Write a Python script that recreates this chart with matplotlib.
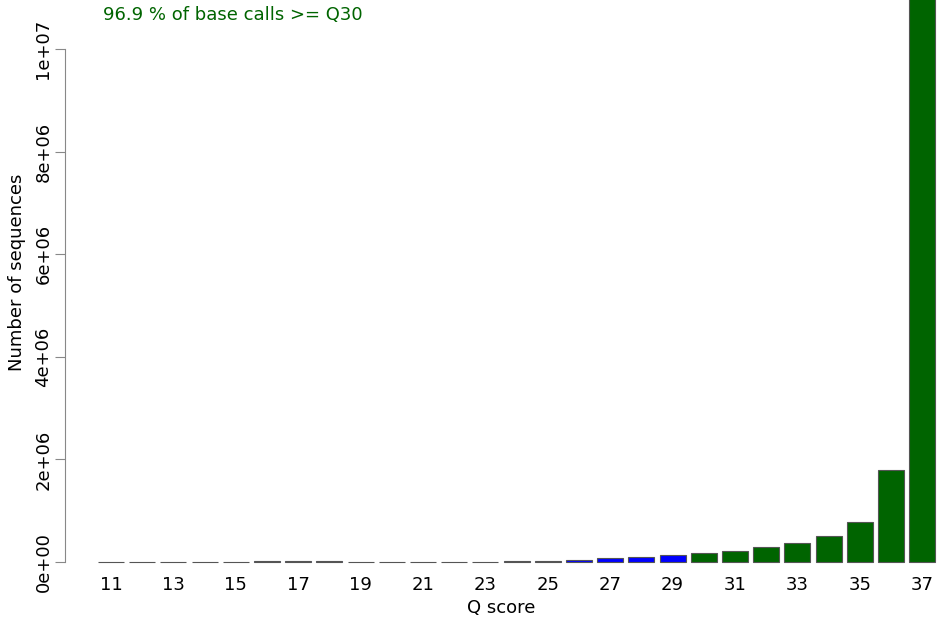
import matplotlib.pyplot as plt

plt.rcParams['font.family'] = ['DejaVu Sans']

q_scores = list(range(11, 38))
counts = [2e3, 2e3, 3e3, 3e3, 4e3, 1.5e4, 2e4, 1.2e4, 9e3, 8e3, 8e3, 8e3, 9e3,
          1.2e4, 2.2e4, 4e4, 7e4, 1.0e5, 1.35e5, 1.7e5, 2.2e5, 2.9e5, 3.7e5,
          5.1e5, 7.8e5, 1.8e6, 1.2e7]
y_ticks = [0, 2e6, 4e6, 6e6, 8e6, 1e7]
y_labels = ['0e+00', '2e+06', '4e+06', '6e+06', '8e+06', '1e+07']
q30_text = '96.9 % of base calls >= Q30'

colors = ['#006400' if q >= 30 else '#0000ff' for q in q_scores]
pos = list(range(len(q_scores)))

fig = plt.figure(figsize=(9.38, 6.25), dpi=100)
ax = fig.add_axes([65 / 938, 50 / 625, 873 / 938, 575 / 625])

ax.bar(pos, counts, width=0.833, color=colors, edgecolor='#555555', linewidth=0.8)

px = 31.2
ax.set_xlim((65 - 111) / px, (938 - 111) / px)
ax.set_ylim(-13 / 513 * 1e7, 562 / 513 * 1e7)

for s in ['top', 'right', 'bottom']:
    ax.spines[s].set_visible(False)
ax.spines['left'].set_bounds(0, 1e7)
ax.spines['left'].set_color('#888888')

ax.set_yticks(y_ticks)
ax.set_yticklabels(y_labels, rotation=90, va='center', fontsize=13)
ax.tick_params(axis='y', length=7, color='#888888', pad=2)

odd = [i for i, q in enumerate(q_scores) if q % 2 == 1]
ax.set_xticks(odd)
ax.set_xticklabels([str(q_scores[i]) for i in odd], fontsize=13)
ax.tick_params(axis='x', length=0, pad=1)

ax.set_xlabel('Q score', fontsize=13, labelpad=3)
ax.set_ylabel('Number of sequences', fontsize=13, va='center')
ax.yaxis.set_label_coords(-0.055, 0.527)

fig.text(103 / 938, 1 - 15 / 625, q30_text, color='#006400', fontsize=13,
         ha='left', va='center')

fig.savefig('out.png', dpi=100)
